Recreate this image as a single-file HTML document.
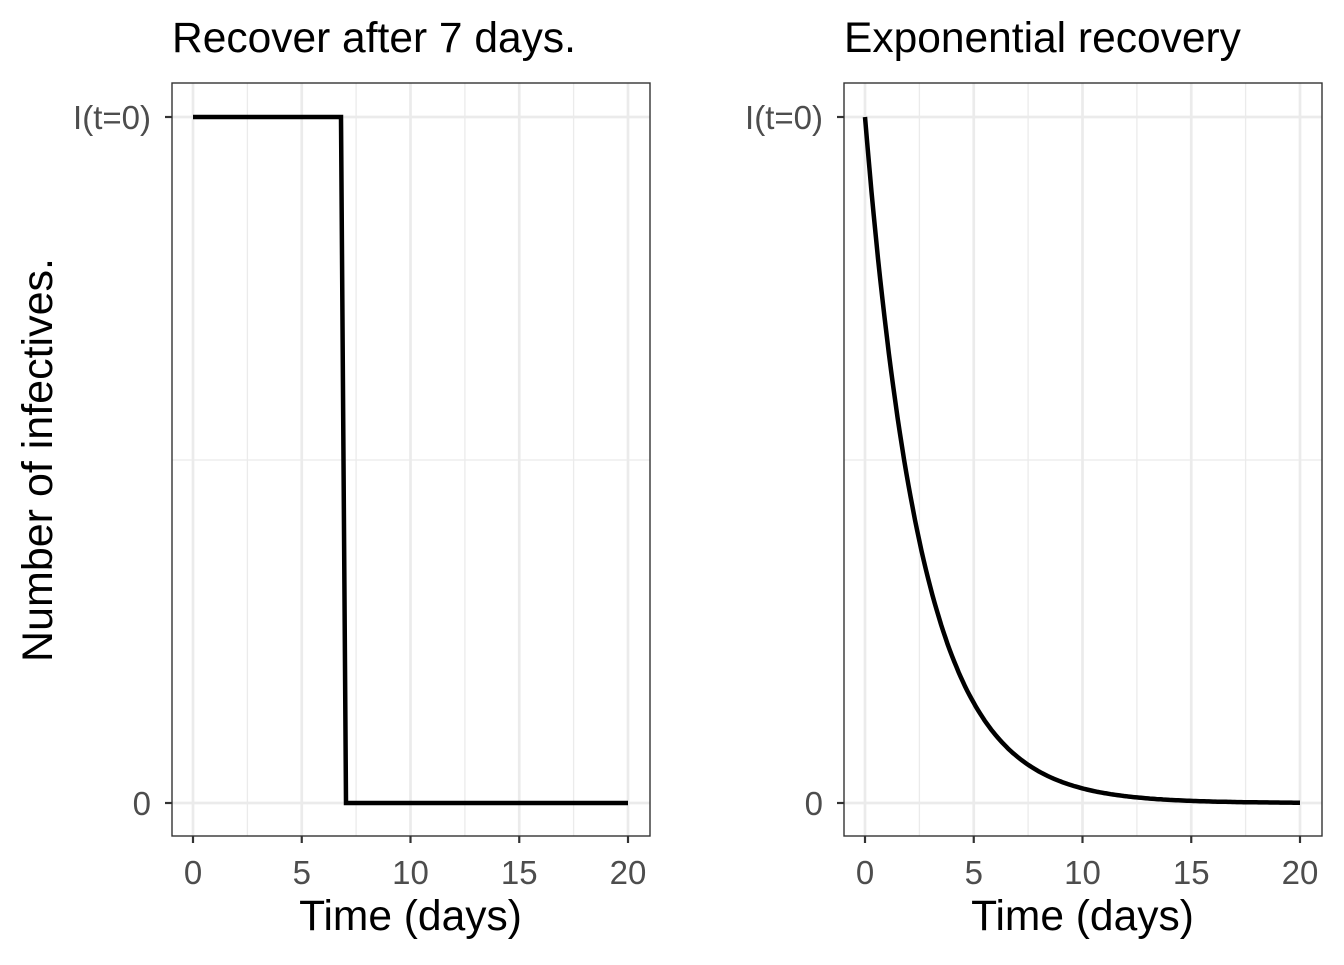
<!DOCTYPE html>
<html><head><meta charset="utf-8"><style>body{margin:0;background:#fff}svg text{font-family:"Liberation Sans",Arial,sans-serif}</style></head>
<body>
<svg id="s" width="1344" height="960" xmlns="http://www.w3.org/2000/svg">
<rect width="1344" height="960" fill="#fff"/>
<g id="p1"></g><g id="p2"></g>
<text x="52" y="460" font-size="43" text-anchor="middle" transform="rotate(-90 52 460)" fill="#000">Number of infectives.</text>
<text x="172" y="52" font-size="42.5" fill="#000">Recover after 7 days.</text>
<text x="844" y="52" font-size="42.5" fill="#000">Exponential recovery</text>
</svg>
<script>
function panel(id,L,pathD){
 var R=L+478,T=83,B=836,x0=L+21,sc=21.75,g='';
 [2.5,7.5,12.5,17.5].forEach(function(v){var x=x0+v*sc;g+='<line x1="'+x+'" y1="'+T+'" x2="'+x+'" y2="'+B+'" stroke="#ebebeb" stroke-width="1.3"/>';});
 g+='<line x1="'+L+'" y1="460" x2="'+R+'" y2="460" stroke="#ebebeb" stroke-width="1.3"/>';
 [0,5,10,15,20].forEach(function(v){var x=x0+v*sc;g+='<line x1="'+x+'" y1="'+T+'" x2="'+x+'" y2="'+B+'" stroke="#ebebeb" stroke-width="2.7"/>';
  g+='<line x1="'+x+'" y1="'+B+'" x2="'+x+'" y2="'+(B+7)+'" stroke="#333" stroke-width="2.2"/>';
  g+='<text x="'+x+'" y="'+(B+48)+'" font-size="33" fill="#4d4d4d" text-anchor="middle">'+v+'</text>';});
 [117,803].forEach(function(y){g+='<line x1="'+L+'" y1="'+y+'" x2="'+R+'" y2="'+y+'" stroke="#ebebeb" stroke-width="2.7"/>';
  g+='<line x1="'+(L-7)+'" y1="'+y+'" x2="'+L+'" y2="'+y+'" stroke="#333" stroke-width="2.2"/>';});
 g+='<text x="'+(L-21)+'" y="129" font-size="33" fill="#4d4d4d" text-anchor="end">I(t=0)</text>';
 g+='<text x="'+(L-21)+'" y="815" font-size="33" fill="#4d4d4d" text-anchor="end">0</text>';
 g+='<path d="'+pathD+'" fill="none" stroke="#000" stroke-width="4.5"/>';
 g+='<rect x="'+L+'" y="'+T+'" width="478" height="753" fill="none" stroke="#333" stroke-width="1.4"/>';
 g+='<text x="'+(x0+10*sc)+'" y="930" font-size="42.5" text-anchor="middle" fill="#000">Time (days)</text>';
 document.getElementById(id).innerHTML=g;
}
panel('p1',172,'M193,117 L341,117 L346,803 L628,803');
var d='';for(var i=0;i<=200;i++){var t=i/10;var x=865+t*21.75,y=803-686*Math.exp(-0.385*t);d+=(i?'L':'M')+x.toFixed(1)+','+y.toFixed(1);}
panel('p2',844,d);
</script>
</body></html>
